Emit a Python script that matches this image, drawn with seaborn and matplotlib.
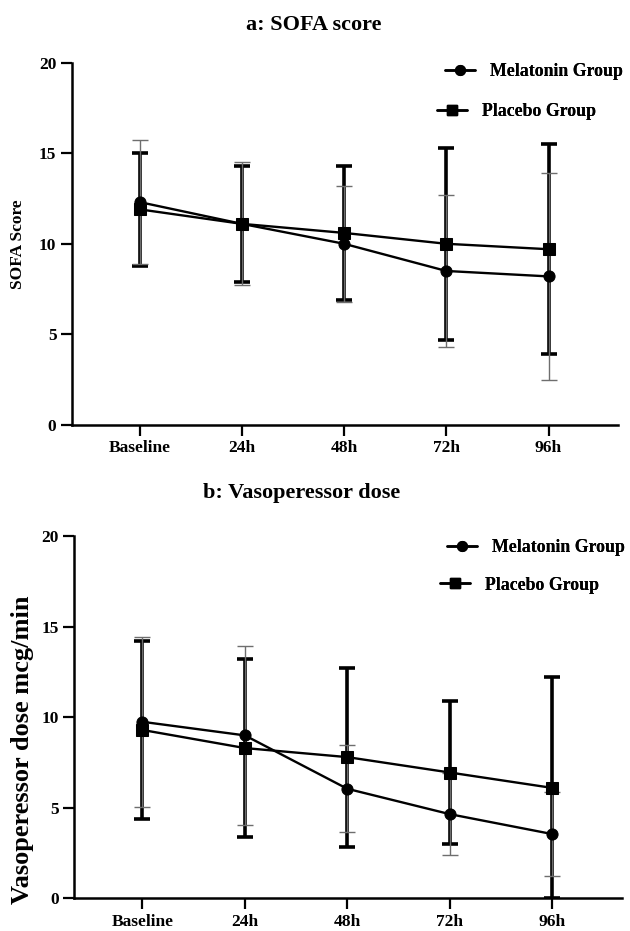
import pandas as pd
import matplotlib
matplotlib.use('Agg')
import matplotlib.pyplot as plt
import seaborn as sns
from matplotlib.lines import Line2D

sns.set_style('white')
plt.rcParams['font.family'] = ['Liberation Serif', 'DejaVu Serif']
plt.rcParams['font.weight'] = 'bold'
plt.rcParams['axes.labelweight'] = 'bold'
plt.rcParams['text.color'] = 'black'
plt.rcParams['axes.labelcolor'] = 'black'

times = ['Baseline', '24h', '48h', '72h', '96h']

# a: SOFA score (mean, SD)
sofa_mel = [12.3, 11.1, 10.0, 8.5, 8.2]
sofa_mel_sd = [3.4, 3.4, 3.2, 4.2, 5.7]
sofa_pla = [11.9, 11.1, 10.6, 10.0, 9.7]
sofa_pla_sd = [3.1, 3.2, 3.7, 5.3, 5.8]

# b: vasopressor dose (mean, SD)
vaso_mel = [9.75, 9.0, 6.05, 4.65, 3.55]
vaso_mel_sd = [4.7, 4.95, 2.4, 2.25, 2.3]
vaso_pla = [9.3, 8.3, 7.8, 6.95, 6.1]
vaso_pla_sd = [4.9, 4.9, 4.95, 3.95, 6.1]

groups = ['Melatonin Group', 'Placebo Group']
markers = {'Melatonin Group': 'o', 'Placebo Group': 's'}


def panel(ax, mel, mel_sd, pla, pla_sd):
    x = list(range(len(times)))
    df = pd.DataFrame({
        'x': x * 2,
        'value': mel + pla,
        'group': [groups[0]] * 5 + [groups[1]] * 5,
    })
    # placebo: thick black SD bars
    ax.errorbar(x, pla, yerr=pla_sd, fmt='none', ecolor='black',
                elinewidth=2.6, capsize=6, capthick=2.6, zorder=2)
    # melatonin: thin grey SD bars
    ax.errorbar(x, mel, yerr=mel_sd, fmt='none', ecolor='#6e6e6e',
                elinewidth=1.0, capsize=6, capthick=1.0, zorder=3)
    sns.lineplot(data=df, x='x', y='value', style='group', markers=markers,
                 dashes=False, color='black', linewidth=1.7, markersize=8,
                 markeredgecolor='black', legend=False, sort=False, ax=ax,
                 zorder=4)
    ax.set_xticks(x)
    ax.set_xticklabels(times)
    ax.set_xlim(-0.665, 4.68)
    ax.set_ylim(0, 20)
    ax.set_yticks([0, 5, 10, 15, 20])
    ax.set_xlabel('')
    for s in ['top', 'right']:
        ax.spines[s].set_visible(False)
    for s in ['left', 'bottom']:
        ax.spines[s].set_linewidth(1.8)
        ax.spines[s].set_color('black')
    ax.tick_params(axis='both', direction='out', length=8, width=1.6,
                   colors='black', labelsize=12.5, pad=3, left=True, bottom=True)
    for t in ax.get_xticklabels() + ax.get_yticklabels():
        t.set_fontweight('bold')


fig = plt.figure(figsize=(6.3, 9.31), dpi=100)
ax1 = fig.add_axes([0.1138, 0.5435, 0.8672, 0.3893])
ax2 = fig.add_axes([0.118, 0.0351, 0.869, 0.3889])

panel(ax1, sofa_mel, sofa_mel_sd, sofa_pla, sofa_pla_sd)
panel(ax2, vaso_mel, vaso_mel_sd, vaso_pla, vaso_pla_sd)

ax1.set_ylabel('SOFA Score', fontsize=12.5, fontweight='bold')
ax1.yaxis.set_label_coords(-0.083, 0.5)
ax2.set_ylabel('Vasoperessor dose mcg/min', fontsize=19, fontweight='bold')
ax2.yaxis.set_label_coords(-0.074, 0.41)

fig.text(0.498, 0.973, 'a: SOFA score', ha='center', va='center',
         fontsize=16, fontweight='bold')
fig.text(0.478, 0.4705, 'b: Vasoperessor dose', ha='center', va='center',
         fontsize=16, fontweight='bold')


# legends, one entry each (GraphPad-like staggered layout)
def add_entry(g, x, y):
    h = Line2D([], [], color='black', marker=markers[g], markersize=7,
               linewidth=1.8)
    lg = fig.legend([h], [g], loc='center left', bbox_to_anchor=(x, y),
                    bbox_transform=fig.transFigure, frameon=False,
                    borderpad=0, borderaxespad=0, handlelength=1.7,
                    handletextpad=0.85, labelcolor='black',
                    prop={'size': 12.8, 'weight': 'bold'})
    fig.add_artist(lg)


add_entry('Melatonin Group', 0.7063, 0.9227)
add_entry('Placebo Group', 0.6937, 0.8797)
add_entry('Melatonin Group', 0.7095, 0.4114)
add_entry('Placebo Group', 0.6984, 0.3716)

fig.savefig('out.png', dpi=100, facecolor='white')
